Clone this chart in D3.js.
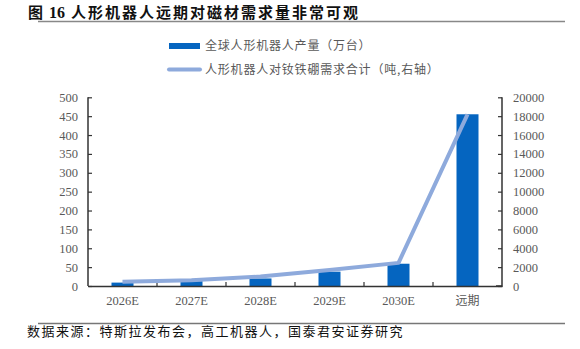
<!DOCTYPE html>
<html><head><meta charset="utf-8">
<script src="https://cdn.jsdelivr.net/npm/d3@7"></script>
<style>body{margin:0;background:#fff}svg{display:block}</style>
</head><body>
<script>
const categories = ["2026E","2027E","2028E","2029E","2030E","远期"];
const robotOutput = [9, 13, 20, 38, 59, 455];
const magnetDemand = [450, 620, 1000, 1700, 2450, 18200];
const leftTicks = [0,50,100,150,200,250,300,350,400,450,500];
const rightTicks = [0,2000,4000,6000,8000,10000,12000,14000,16000,18000,20000];
const titleNum = "16";
const title = "人形机器人远期对磁材需求量非常可观";
const legendLabels = ["全球人形机器人产量（万台）","人形机器人对钕铁硼需求合计（吨,右轴）"];
const source = "数据来源：特斯拉发布会，高工机器人，国泰君安证券研究";

const W=580,H=349;
const svg=d3.select("body").append("svg").attr("width",W).attr("height",H);
const cjk="'Noto Sans CJK SC',sans-serif";
const serif="'Liberation Serif','Times New Roman',serif";
const grey="#595959";

const t=svg.append("text").attr("x",28).attr("y",18).attr("font-weight","bold").attr("fill","#111");
t.append("tspan").style("font-family",cjk).style("font-size","15px").text("图");
t.append("tspan").attr("dx",6).style("font-family",serif).style("font-size","16px").text(titleNum);
t.append("tspan").attr("dx",6).style("font-family",cjk).style("font-size","15px").style("letter-spacing","2px").text(title);
svg.append("line").attr("x1",38).attr("x2",565).attr("y1",21.5).attr("y2",21.5).attr("stroke","#888").attr("stroke-width",1.6);

const x=d3.scaleBand().domain(categories).range([88,502]);
const yL=d3.scaleLinear().domain([0,500]).range([286,97.3]);
const yR=d3.scaleLinear().domain([0,20000]).range([286,97.3]);
const bw=22;

svg.append("g").selectAll("rect").data(robotOutput).join("rect")
  .attr("x",(d,i)=>x(categories[i])+x.bandwidth()/2-bw/2).attr("width",bw)
  .attr("y",d=>yL(d)).attr("height",d=>yL(0)-yL(d)).attr("fill","#0565c0");

const axL=svg.append("g").attr("transform","translate(88,0)")
  .call(d3.axisLeft(yL).tickValues(leftTicks).tickSize(-4).tickPadding(10));
const axR=svg.append("g").attr("transform","translate(502,0)")
  .call(d3.axisRight(yR).tickValues(rightTicks).tickFormat(d3.format("d")).tickSize(-4).tickPadding(11));
const axX=svg.append("g").attr("transform","translate(0,286)")
  .call(d3.axisBottom(x).tickSize(0).tickPadding(10));
svg.append("g").selectAll("line").data(categories.slice(1)).join("line")
  .attr("x1",d=>x(d)).attr("x2",d=>x(d)).attr("y1",286).attr("y2",282)
  .attr("stroke","#333").attr("stroke-width",1.2);
[axL,axR,axX].forEach(a=>{
  a.attr("font-family",null).attr("font-size",null);
  a.select(".domain").attr("stroke","#333").attr("stroke-width",1.5);
  a.selectAll(".tick line").attr("stroke","#333").attr("stroke-width",1.2);
  a.selectAll("text").style("font-family",serif).style("font-size","12.5px").attr("fill",grey);
});
axX.selectAll("text").filter(d=>d==="远期").style("font-family",cjk).style("font-size","12px");
axL.select(".domain").attr("d","M0,97.3V286");
axR.select(".domain").attr("d","M0,97.3V286H-6");

const line=d3.line().x((d,i)=>x(categories[i])+x.bandwidth()/2).y(d=>yR(d));
svg.append("path").datum(magnetDemand).attr("d",line).attr("fill","none")
  .attr("stroke","#8eaadc").attr("stroke-width",4).attr("stroke-linejoin","round");

svg.append("rect").attr("x",169).attr("y",43).attr("width",31).attr("height",6).attr("fill","#0565c0");
svg.append("line").attr("x1",169).attr("x2",200).attr("y1",69.5).attr("y2",69.5).attr("stroke","#8eaadc").attr("stroke-width",4).attr("stroke-linecap","round");
legendLabels.forEach((t,i)=>svg.append("text").attr("x",205).attr("y",46+i*23.5).attr("dy","0.35em")
  .style("font-family",cjk).style("font-size","12px").style("letter-spacing","0.8px").attr("fill",grey).text(t));

svg.append("line").attr("x1",38).attr("x2",565).attr("y1",323.5).attr("y2",323.5).attr("stroke","#777").attr("stroke-width",1.3);
svg.append("text").attr("x",27).attr("y",331).attr("dy","0.35em").style("font-family",cjk)
  .style("font-size","13px").style("letter-spacing","1.5px").attr("fill","#111").text(source);
</script>
</body></html>
